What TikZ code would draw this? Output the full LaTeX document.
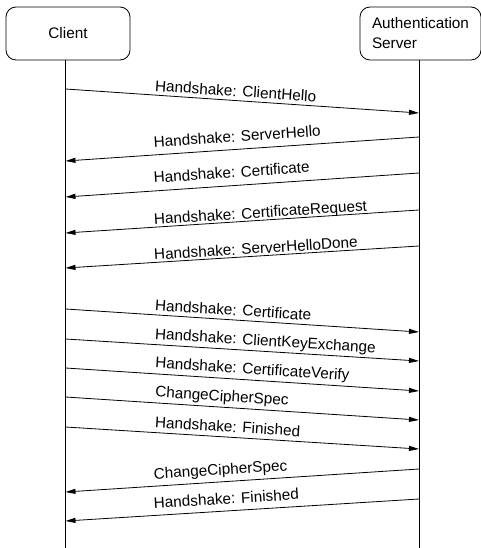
\documentclass[tikz,border=0pt]{standalone}
\usepackage{fontspec}
\setmainfont{Liberation Sans}
\usetikzlibrary{arrows.meta}
\usetikzlibrary{positioning}
\tikzset{party/.style = {draw, rounded corners = 10pt, line width = 0.8pt, minimum height = 53pt, inner sep = 0}}
\tikzset{msg/.style = {line width = 0.8pt}}
\tikzset{lbl/.style = {pos = 0.251, sloped, anchor = base west, inner sep = 0}}

\begin{document}
\begin{tikzpicture}[x = 1pt, y = -1pt, font = \fontsize{15.3}{20}\selectfont,
    >={Triangle[length = 10pt, width = 5pt]}]
    \useasboundingbox (0, 0) rectangle (480, 548);

    \node [party, minimum width = 124pt] (client) at (68, 33.5) {Client};
    \node [party, minimum width = 121pt, align = left] (server) at (420.5, 33.5) {Authentication\\Server};

    % lifelines
    \coordinate (cend) at (65.5, 548);
    \coordinate (send) at (419, 548);
    \draw [msg] (cend |- client.south) -- (cend);
    \draw [msg] (send |- server.south) -- (send);

    \foreach \i/\cy/\sy in {1/89/113, 2/161/137, 3/197/173, 4/233/210, 5/268/246, 6/309/332,
        7/339/361, 8/368/391, 9/397/420, 10/427/449, 11/492/469, 12/521/499}
      {\coordinate (c\i) at (65.5, \cy); \coordinate (s\i) at (419, \sy);}

    \draw [msg, ->] (c1) -- node [lbl, yshift = 4pt] {Handshake: ClientHello} (s1);

    \draw [msg, <-] (c2) -- node [lbl, yshift = 7.5pt] {Handshake: ServerHello} (s2);
    \draw [msg, <-] (c3) -- node [lbl, yshift = 8pt] {Handshake: Certificate} (s3);
    \draw [msg, <-] (c4) -- node [lbl, yshift = 2.5pt] {Handshake: CertificateRequest} (s4);
    \draw [msg, <-] (c5) -- node [lbl, yshift = 2.5pt] {Handshake: ServerHelloDone} (s5);

    \draw [msg, ->] (c6) -- node [lbl, yshift = 4.5pt] {Handshake: Certificate} (s6);
    \draw [msg, ->] (c7) -- node [lbl, yshift = 5.5pt] {Handshake: ClientKeyExchange} (s7);
    \draw [msg, ->] (c8) -- node [lbl, yshift = 6pt] {Handshake: CertificateVerify} (s8);
    \draw [msg, ->] (c9) -- node [lbl, yshift = 6pt] {ChangeCipherSpec} (s9);
    \draw [msg, ->] (c10) -- node [lbl, yshift = 5pt] {Handshake: Finished} (s10);

    \draw [msg, <-] (c11) -- node [lbl, yshift = 7pt] {ChangeCipherSpec} (s11);
    \draw [msg, <-] (c12) -- node [lbl, yshift = 7pt] {Handshake: Finished} (s12);
  \end{tikzpicture}
\end{document}
